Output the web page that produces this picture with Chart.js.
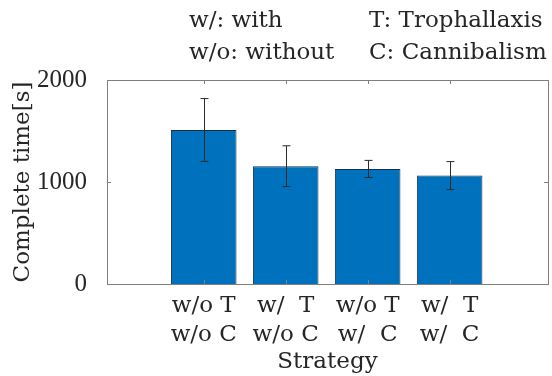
<!DOCTYPE html>
<html>
<head>
<meta charset="utf-8">
<script src="https://cdn.jsdelivr.net/npm/chart.js@4"></script>
<style>
  html, body { margin: 0; padding: 0; background: #fff; }
  #wrap { width: 552px; height: 376px; }
</style>
</head>
<body>
<div id="wrap"><canvas id="bar-chart" width="552" height="376"></canvas></div>
<script>
const strategies = [['w/o T', 'w/o C'], ['w/  T', 'w/o C'], ['w/o T', 'w/  C'], ['w/  T', 'w/  C']];
const positions = [1, 2, 3, 4];
const meanTimes = [1510, 1155, 1128, 1063];
const errTimes = [308, 200, 84, 137];
const yTicks = [0, 1000, 2000];
const notes = [['w/: with', 'T: Trophallaxis'], ['w/o: without', 'C: Cannibalism']];

const serif = '"DejaVu Serif"';
const digits = '"Liberation Serif"';
const textColor = '#262626';

// error bars, axis box and inward ticks, header notes
const extras = {
    id: 'extras',
    afterDatasetsDraw(chart) {
        const c = chart.ctx, a = chart.chartArea;
        const x = chart.scales.x, y = chart.scales.y;
        c.save();
        c.strokeStyle = '#2b2b2b';
        c.lineWidth = 1;
        meanTimes.forEach((m, i) => {
            const px = Math.round(x.getPixelForValue(positions[i])) + 0.5;
            const top = y.getPixelForValue(m + errTimes[i]);
            const bot = y.getPixelForValue(m - errTimes[i]);
            c.beginPath();
            c.moveTo(px, top); c.lineTo(px, bot);
            c.moveTo(px - 4, top); c.lineTo(px + 4, top);
            c.moveTo(px - 4, bot); c.lineTo(px + 4, bot);
            c.stroke();
        });
        c.strokeStyle = '#7f7f7f';
        c.strokeRect(Math.round(a.left) + 0.5, Math.round(a.top) + 0.5, Math.round(a.right - a.left), Math.round(a.bottom - a.top));
        c.beginPath();
        positions.forEach(p => {
            const px = Math.round(x.getPixelForValue(p)) + 0.5;
            c.moveTo(px, a.bottom); c.lineTo(px, a.bottom - 4);
            c.moveTo(px, a.top); c.lineTo(px, a.top + 4);
        });
        yTicks.forEach(v => {
            const py = Math.round(y.getPixelForValue(v)) + 0.5;
            c.moveTo(a.left, py); c.lineTo(a.left + 4, py);
            c.moveTo(a.right, py); c.lineTo(a.right - 4, py);
        });
        c.stroke();
        c.fillStyle = textColor;
        c.font = '23px ' + serif;
        c.textAlign = 'left';
        c.textBaseline = 'alphabetic';
        notes.forEach((row, i) => {
            c.fillText(row[0], 189, 27 + i * 32);
            c.fillText(row[1], 369, 27 + i * 32);
        });
        c.restore();
    }
};

function makeChart() {
    new Chart(document.getElementById('bar-chart'), {
        type: 'bar',
        data: {
            datasets: [{
                data: positions.map((p, i) => ({x: p, y: meanTimes[i]})),
                backgroundColor: '#0072BD',
                borderColor: '#1a2f45',
                borderWidth: 1,
                categoryPercentage: 1,
                barPercentage: 0.8
            }]
        },
        options: {
            responsive: false,
            animation: false,
            layout: {padding: {top: 80, right: 4, left: 0, bottom: 0}},
            plugins: {
                legend: {display: false},
                title: {display: false},
                tooltip: {enabled: false}
            },
            scales: {
                x: {
                    type: 'linear',
                    offset: false,
                    min: -0.18,
                    max: 5.2,
                    grid: {display: false},
                    border: {display: false},
                    afterBuildTicks: s => { s.ticks = positions.map(v => ({value: v})); },
                    afterFit: s => { s.height = 92; },
                    ticks: {
                        autoSkip: false,
                        maxRotation: 0,
                        padding: 0,
                        color: textColor,
                        font: {family: serif, size: 23, lineHeight: 1.26},
                        callback: (v) => strategies[positions.indexOf(v)] || ''
                    },
                    title: {
                        display: true,
                        text: 'Strategy',
                        color: textColor,
                        font: {family: serif, size: 23},
                        padding: {top: 0, bottom: 0}
                    }
                },
                y: {
                    min: 0,
                    max: 2000,
                    grid: {display: false},
                    border: {display: false},
                    afterBuildTicks: s => { s.ticks = yTicks.map(v => ({value: v})); },
                    afterFit: s => { s.width = 107; },
                    ticks: {
                        padding: 12,
                        color: textColor,
                        font: {family: digits, size: 25},
                        callback: (v) => String(v)
                    },
                    title: {
                        display: true,
                        text: 'Complete time[s]',
                        color: textColor,
                        font: {family: serif, size: 23},
                        padding: {top: 9, bottom: 0}
                    }
                }
            }
        },
        plugins: [extras]
    });
}

document.fonts.load('23px "DejaVu Serif"').then(makeChart, makeChart);
</script>
</body>
</html>
